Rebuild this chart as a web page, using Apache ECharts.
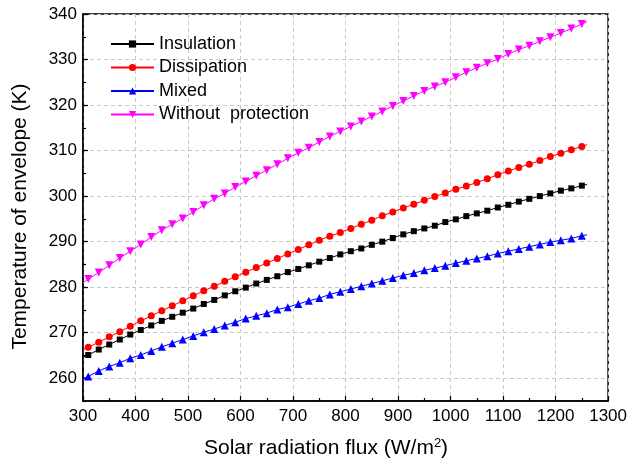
<!DOCTYPE html>
<html><head><meta charset="utf-8">
<script src="https://cdn.jsdelivr.net/npm/echarts@6/dist/echarts.min.js"></script>
<style>html,body{margin:0;padding:0;background:#fff}#c{width:630px;height:464px}</style>
</head><body><div id="c"></div><script>
// x values (W/m2): line endpoints 300 and 1260, markers at 310..1250 step 20
const flux = [300,310,330,350,370,390,410,430,450,470,490,510,530,550,570,590,610,630,650,670,690,710,730,750,770,790,810,830,850,870,890,910,930,950,970,990,1010,1030,1050,1070,1090,1110,1130,1150,1170,1190,1210,1230,1250,1260];
const insulation = [264.6,265.1,266.3,267.4,268.5,269.6,270.6,271.6,272.6,273.5,274.4,275.3,276.3,277.2,278.2,279.1,279.9,280.8,281.6,282.4,283.3,284.0,284.8,285.6,286.4,287.2,287.9,288.5,289.3,290.0,290.8,291.6,292.3,292.9,293.5,294.3,294.9,295.6,296.2,296.8,297.5,298.1,298.8,299.4,300.0,300.6,301.2,301.7,302.3,302.6];
const dissipation = [266.2,266.8,267.9,269.1,270.2,271.4,272.6,273.7,274.8,275.9,277.0,278.1,279.2,280.2,281.3,282.3,283.3,284.3,285.3,286.3,287.3,288.3,289.3,290.3,291.2,292.0,292.9,293.8,294.7,295.7,296.5,297.4,298.2,299.1,299.9,300.7,301.5,302.2,303.0,303.8,304.7,305.5,306.3,307.0,307.8,308.7,309.4,310.2,310.9,311.3];
const mixed = [259.9,260.4,261.6,262.6,263.4,264.4,265.1,266.0,266.9,267.7,268.5,269.3,270.1,270.8,271.6,272.3,273.1,273.7,274.3,275.1,275.6,276.3,277.0,277.6,278.4,279.0,279.6,280.2,280.8,281.4,282.0,282.6,283.1,283.7,284.2,284.7,285.3,285.8,286.3,286.8,287.4,287.9,288.4,288.9,289.4,289.9,290.3,290.7,291.3,291.5];
const withoutProtection = [281.0,281.8,283.2,284.8,286.4,287.9,289.4,291.0,292.5,293.8,295.1,296.5,298.0,299.4,300.6,302.0,303.2,304.5,305.7,307.0,308.3,309.5,310.6,311.9,313.1,314.2,315.3,316.4,317.5,318.6,319.8,320.9,322.0,323.1,324.1,325.0,326.1,327.2,328.2,329.2,330.1,331.2,332.2,333.0,334.0,334.9,335.8,336.8,337.8,338.3];
const seriesNames = ['Insulation','Dissipation','Mixed','Without  protection'];
const xTicks = [300,400,500,600,700,800,900,1000,1100,1200,1300];
const yTicks = [260,270,280,290,300,310,320,330,340];

const FONT = "'Liberation Sans', Arial, sans-serif";
function build(vals){
  return flux.map((x,i)=>{
    const d = {value:[x, vals[i]]};
    if (i===0 || i===flux.length-1) d.symbol = 'none';
    return d;
  });
}
function mk(name, vals, color, symbol, size, rot){
  return {
    name, type:'line', data: build(vals), xAxisIndex:0, yAxisIndex:0,
    symbol, symbolSize:size, symbolRotate: rot||0, showAllSymbol:true,
    lineStyle:{color, width:1}, itemStyle:{color}, animation:false, z:3
  };
}
const plain = v => String(v);
const chart = echarts.init(document.getElementById('c'), null, {renderer:'canvas'});
const dash = {color:'#c8c8c8', width:1, type:[4,3]};
chart.setOption({
  backgroundColor:'#fff',
  animation:false,
  grid:{left:83, right:21, top:14, bottom:62, show:true, borderColor:'#000', borderWidth:1.5, backgroundColor:'transparent'},
  legend:{
    orient:'vertical', left:110, top:35, padding:0, itemGap:5.5,
    itemWidth:43, itemHeight:9, data:seriesNames,
    textStyle:{fontFamily:FONT, fontSize:18, color:'#000'}
  },
  xAxis:[{
    type:'value', min:300, max:1300, interval:100,
    name:'Solar radiation flux (W/m{sup|2})', nameLocation:'middle', nameGap:36,
    nameTextStyle:{fontFamily:FONT, fontSize:21, color:'#000', padding:[0,39,0,0],
      rich:{sup:{fontFamily:FONT, fontSize:13, verticalAlign:'top', padding:[0,0,10,0]}}},
    axisLine:{show:true, onZero:false, lineStyle:{color:'#000', width:1.5}},
    axisTick:{show:true, inside:true, length:5, lineStyle:{color:'#000', width:1.2}},
    minorTick:{show:true, splitNumber:2, length:3, lineStyle:{color:'#000', width:1.2}},
    axisLabel:{customValues:xTicks, formatter:plain, margin:7, fontFamily:FONT, fontSize:17, color:'#000'},
    splitLine:{show:true, lineStyle:dash}
  }],
  yAxis:[{
    type:'value', min:255, max:340, interval:5,
    name:'Temperature of envelope (K)', nameLocation:'middle', nameGap:52,
    nameTextStyle:{fontFamily:FONT, fontSize:21, color:'#000', padding:[0,18,0,0]},
    axisLine:{show:true, onZero:false, lineStyle:{color:'#000', width:1.5}},
    axisTick:{show:true, inside:true, length:5, customValues:yTicks, lineStyle:{color:'#000', width:1.2}},
    axisLabel:{customValues:yTicks, formatter:plain, margin:6, fontFamily:FONT, fontSize:17, color:'#000'},
    splitLine:{show:true, lineStyle:dash}
  },{
    type:'value', min:255, max:340, interval:5, position:'left', offset:0,
    axisLine:{show:false}, axisLabel:{show:false}, splitLine:{show:false},
    axisTick:{show:true, inside:true, length:3, lineStyle:{color:'#000', width:1.2}}
  }],
  series:[
    mk(seriesNames[0], insulation, '#000000', 'rect', 6),
    mk(seriesNames[1], dissipation, '#ff0000', 'circle', 7),
    mk(seriesNames[2], mixed, '#0000ff', 'triangle', 8),
    mk(seriesNames[3], withoutProtection, '#ff00ff', 'triangle', 8, 180)
  ]
});
</script></body></html>
